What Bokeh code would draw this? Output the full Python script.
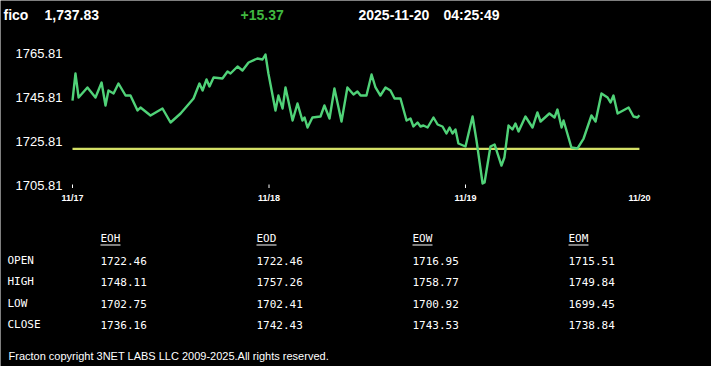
from bokeh.plotting import figure
from bokeh.models import Range1d
from bokeh.embed import file_html
from bokeh.resources import INLINE
from bokeh.core.properties import value

# ---------------- data ----------------
symbol = "fico"
last_price = "1,737.83"
change = "+15.37"
date_str = "2025-11-20"
time_str = "04:25:49"

day_labels = ["11/17", "11/18", "11/19", "11/20"]
day_pos = [0.0, 1.0, 2.0, 2.885]

# time in trading-day units since 11/17, price
t = [0.000, 0.015, 0.031, 0.076, 0.117, 0.148, 0.168, 0.183, 0.209, 0.234,
     0.270, 0.295, 0.331, 0.346, 0.397, 0.458, 0.499, 0.550, 0.616, 0.646,
     0.662, 0.682, 0.697, 0.718, 0.763, 0.789, 0.804, 0.840, 0.865, 0.896,
     0.941, 0.967, 0.982, 0.997, 1.033, 1.048, 1.069, 1.084, 1.120, 1.145,
     1.170, 1.181, 1.196, 1.221, 1.262, 1.282, 1.308, 1.333, 1.369, 1.399,
     1.430, 1.450, 1.466, 1.496, 1.522, 1.542, 1.567, 1.593, 1.618, 1.639,
     1.669, 1.700, 1.720, 1.735, 1.756, 1.771, 1.786, 1.807, 1.837, 1.858,
     1.883, 1.903, 1.919, 1.934, 1.949, 1.964, 2.000, 2.036, 2.056, 2.087,
     2.097, 2.127, 2.148, 2.183, 2.198, 2.219, 2.239, 2.254, 2.270, 2.305,
     2.341, 2.366, 2.382, 2.427, 2.453, 2.468, 2.489, 2.499, 2.539, 2.570,
     2.601, 2.641, 2.662, 2.692, 2.723, 2.738, 2.753, 2.774, 2.830, 2.855,
     2.875, 2.885]
price = [1744.53, 1756.83, 1745.90, 1750.46, 1745.90, 1752.73, 1742.26, 1749.09, 1747.72, 1752.28,
         1746.81, 1746.81, 1739.98, 1741.34, 1737.70, 1740.89, 1734.51, 1738.61, 1745.44, 1752.28,
         1749.09, 1754.10, 1750.91, 1755.01, 1754.56, 1757.75, 1756.83, 1760.02, 1758.20, 1761.85,
         1763.67, 1763.21, 1765.49, 1756.83, 1739.98, 1746.81, 1740.89, 1750.46, 1735.42, 1743.17,
         1735.42, 1736.79, 1732.23, 1736.79, 1737.24, 1742.26, 1736.33, 1750.00, 1734.97, 1750.46,
         1747.27, 1748.63, 1746.81, 1746.81, 1756.38, 1750.46, 1746.81, 1750.46, 1749.09, 1745.44,
         1745.44, 1735.42, 1736.33, 1732.69, 1734.51, 1732.69, 1733.14, 1732.23, 1736.79, 1733.60,
         1732.69, 1729.50, 1732.23, 1729.50, 1731.32, 1724.94, 1723.58, 1737.24, 1726.31, 1706.72,
         1707.18, 1723.58, 1724.49, 1714.92, 1718.56, 1733.14, 1731.32, 1734.06, 1730.41, 1737.24,
         1732.23, 1739.07, 1734.97, 1738.61, 1736.79, 1740.43, 1732.23, 1735.42, 1723.12, 1722.67,
         1727.22, 1737.70, 1734.97, 1747.72, 1745.90, 1743.62, 1746.81, 1738.61, 1741.34, 1737.24,
         1736.79, 1737.83]
prev_close = 1722.46
y_ticks = [1705.81, 1725.81, 1745.81, 1765.81]
y_tick_labels = ["1705.81", "1725.81", "1745.81", "1765.81"]

col_names = ["EOH", "EOD", "EOW", "EOM"]
row_names = ["OPEN", "HIGH", "LOW", "CLOSE"]
eoh = [1722.46, 1748.11, 1702.75, 1736.16]
eod = [1722.46, 1757.26, 1702.41, 1742.43]
eow = [1716.95, 1758.77, 1700.92, 1743.53]
eom = [1715.51, 1749.84, 1699.45, 1738.84]
footer_text = "Fracton copyright 3NET LABS LLC 2009-2025.All rights reserved."

# ---------------- layout / style ----------------
W, H = 711, 366
SANS = "Liberation Sans"
MONO = "DejaVu Sans Mono"
LINE_GREEN = "#50d278"
CHG_GREEN = "#40b840"
YELLOW = "#d4df66"

# chart placement on the page (pixels)
X0_PX = 72.0          # where day 0 sits
PX_PER_DAY = 196.5
Y_LO_PX = 185.0       # where the lowest y tick sits
PX_PER_UNIT = 131.7 / 60.0

x_start = (0 - X0_PX) / PX_PER_DAY
x_end = (W - X0_PX) / PX_PER_DAY
y_bottom = y_ticks[0] - (H - Y_LO_PX) / PX_PER_UNIT
y_top = y_ticks[0] + Y_LO_PX / PX_PER_UNIT

p = figure(width=W, height=H, x_range=Range1d(x_start, x_end), y_range=Range1d(y_bottom, y_top),
           toolbar_location=None, output_backend="svg", min_border=0,
           min_border_left=0, min_border_right=0, min_border_top=0, min_border_bottom=0)
p.axis.visible = False
p.grid.visible = False
p.outline_line_color = None
p.background_fill_color = "black"
p.border_fill_color = "black"

# page-pixel ranges for texts laid out on the page
p.extra_x_ranges = {"px": Range1d(0, W)}
p.extra_y_ranges = {"px": Range1d(H, 0)}

# ---------- chart ----------
p.line([0, day_pos[-1]], [prev_close, prev_close], line_color=YELLOW, line_width=2.2)
p.line(t, price, line_color=LINE_GREEN, line_width=2.4, line_join="round")

# y tick labels
p.text(x=[62] * len(y_ticks), y=y_ticks, text=y_tick_labels, x_range_name="px",
       text_color="white", text_font=value(SANS), text_font_size="13px",
       text_align="right", text_baseline="middle")

# x tick marks (day boundaries) and labels
p.segment(x0=day_pos[:3], y0=[184] * 3, x1=day_pos[:3], y1=[187.5] * 3, y_range_name="px",
          line_color="white", line_width=1)
p.text(x=day_pos, y=[197] * len(day_pos), text=day_labels, y_range_name="px",
       text_color="white", text_font=value(SANS), text_font_style="bold",
       text_font_size="9px", text_align="center", text_baseline="middle")

# ---------- header ----------
p.text(x=[3, 44, 240, 358, 443], y=[14] * 5,
       text=[symbol, last_price, change, date_str, time_str],
       color=["white", "white", CHG_GREEN, "white", "white"],
       x_range_name="px", y_range_name="px",
       text_font=value(SANS), text_font_style="bold", text_font_size="14px",
       text_baseline="alphabetic", text_align="left")

# ---------- table ----------
col_x = [100, 256, 412, 568]
row_y = [260, 281, 303, 324]
p.text(x=col_x, y=[238] * 4, text=col_names, x_range_name="px", y_range_name="px",
       text_color="white", text_font=value(MONO), text_font_size="11px",
       text_baseline="middle", text_align="left")
p.segment(x0=col_x, y0=[244.5] * 4, x1=[cx + 20 for cx in col_x], y1=[244.5] * 4,
          x_range_name="px", y_range_name="px", line_color="white", line_width=1)
p.text(x=[7] * 4, y=row_y, text=row_names, x_range_name="px", y_range_name="px",
       text_color="white", text_font=value(MONO), text_font_size="11px",
       text_baseline="middle", text_align="left")
for cx, vals in zip(col_x, [eoh, eod, eow, eom]):
    p.text(x=[cx] * 4, y=row_y, text=[f"{v:.2f}" for v in vals],
           x_range_name="px", y_range_name="px", text_color="white",
           text_font=value(MONO), text_font_size="11px", text_baseline="middle",
           text_align="left")

# ---------- footer ----------
p.text(x=[8], y=[355], text=[footer_text], x_range_name="px", y_range_name="px",
       text_color="white", text_font=value(SANS), text_font_size="11px",
       text_baseline="middle", text_align="left")

open("out.html", "w").write(file_html(p, INLINE))
